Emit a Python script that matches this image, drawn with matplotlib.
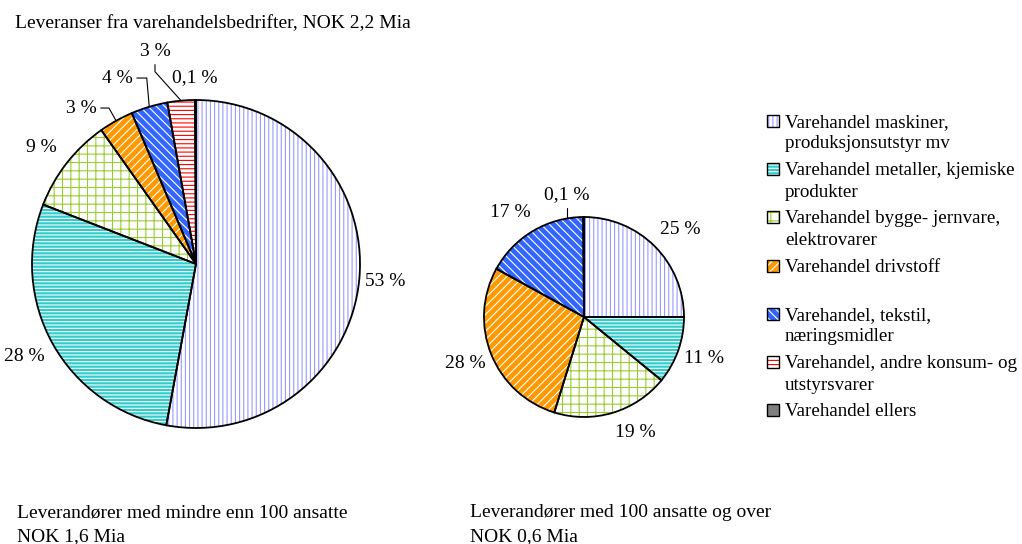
import numpy as np
import matplotlib
matplotlib.use('Agg')
import matplotlib.pyplot as plt
from matplotlib.patches import Rectangle

plt.rcParams['font.family'] = ['Liberation Serif', 'DejaVu Serif']
plt.rcParams['font.size'] = 14
plt.rcParams['hatch.linewidth'] = 0.8

W, H = 1022, 544

# data
categories = [
    'Varehandel maskiner,\nproduksjonsutstyr mv',
    'Varehandel metaller, kjemiske\nprodukter',
    'Varehandel bygge- jernvare,\nelektrovarer',
    'Varehandel drivstoff',
    'Varehandel, tekstil,\nnæringsmidler',
    'Varehandel, andre konsum- og\nutstyrsvarer',
    'Varehandel ellers',
]
small_share = [52.9, 28.0, 9.3, 3.4, 3.6, 2.7, 0.1]   # under 100 ansatte
large_share = [25.0, 10.9, 18.9, 28.2, 16.9, 0.0, 0.1]  # 100 ansatte og over

title = 'Leveranser fra varehandelsbedrifter, NOK 2,2 Mia'
caption_small = ['Leverandører med mindre enn 100 ansatte', 'NOK 1,6 Mia']
caption_large = ['Leverandører med 100 ansatte og over', 'NOK 0,6 Mia']

# styles
face_colors = ['white', '#33CCCC', 'white', '#FF9900', '#3366FF', 'white', '#808080']
hatch_colors = ['#9999FF', 'white', '#99CC33', 'white', 'white', '#FF0000', '#808080']
hatches = ['||||', '-----', '++', '////', '\\\\\\\\', '----', None]


def fx(x):
    return x / W


def fy(y):
    return 1 - y / H


def pct_label(v):
    if v < 1:
        return f'{v:.1f} %'.replace('.', ',')
    return f'{v:.0f} %'


def pie_axes(fig, cx, cy, r, pad=1.45):
    ax = fig.add_axes([fx(cx - pad * r), fy(cy + pad * r), 2 * pad * r / W, 2 * pad * r / H])
    return ax, pad


def draw_pie(ax, pad, values):
    wedges, _ = ax.pie(values, colors=face_colors, hatch=hatches, startangle=90,
                       counterclock=False, wedgeprops=dict(linewidth=0))
    for w, hc in zip(wedges, hatch_colors):
        w.set_edgecolor(hc)
    ax.pie(values, startangle=90, counterclock=False,
           wedgeprops=dict(fill=False, edgecolor='black', linewidth=1.3))
    ax.set_xlim(-pad, pad)
    ax.set_ylim(-pad, pad)
    ax.axis('off')
    return wedges


def add_labels(ax, wedges, values, layout, leaders):
    for i, (w, v) in enumerate(zip(wedges, values)):
        if v == 0:
            continue
        mid = (w.theta1 + w.theta2) / 2
        if i in leaders:
            tx, ty, angA, angB, relpos, end_nudge = leaders[i]
            a = np.deg2rad(mid + end_nudge)
            if angB is None:
                angB = mid
            ax.annotate(pct_label(v), xy=(np.cos(a), np.sin(a)), xytext=(tx, ty),
                        ha='center', va='center',
                        arrowprops=dict(arrowstyle='-', color='black', lw=0.8,
                                        shrinkA=1, shrinkB=0, relpos=relpos,
                                        connectionstyle=f'angle,angleA={angA},angleB={angB},rad=0'))
        else:
            nudge, dist = layout[i]
            a = np.deg2rad(mid + nudge)
            ax.text(dist * np.cos(a), dist * np.sin(a), pct_label(v), ha='center', va='center')


fig = plt.figure(figsize=(W / 100, H / 100), dpi=100)

# left pie: under 100 ansatte
ax1, pad1 = pie_axes(fig, 196, 264, 164)
w1 = draw_pie(ax1, pad1, small_share)
layout1 = [(0, 1.16), (-0.9, 1.19), (0.8, 1.18), None, None, None, (0.1, 1.134)]
leaders1 = {
    3: (-0.70, 0.951, 0, None, (1, 0.5), 0),
    4: (-0.48, 1.134, 0, 95, (1, 0.5), 0),
    5: (-0.25, 1.293, 90, 132, (0.5, 0), 0),
}
add_labels(ax1, w1, small_share, layout1, leaders1)

# right pie: 100 ansatte og over
ax2, pad2 = pie_axes(fig, 584, 317, 100)
w2 = draw_pie(ax2, pad2, large_share)
layout2 = [(-2.8, 1.30), (0.6, 1.27), (7.2, 1.26), (-0.5, 1.27), (4.6, 1.28), None, None]
leaders2 = {
    6: (-0.17, 1.22, 90, 0, (0.5, 0), 6.8),
}
add_labels(ax2, w2, large_share, layout2, leaders2)

# texts
fig.text(fx(15), fy(28), title, ha='left', va='baseline')
for j, line in enumerate(caption_small):
    fig.text(fx(17), fy(517 + j * 24), line, ha='left', va='baseline')
for j, line in enumerate(caption_large):
    fig.text(fx(470), fy(517 + j * 24), line, ha='left', va='baseline')

# legend
for i, lab in enumerate(categories):
    yc = 121 + i * 48.2
    sq = Rectangle((fx(767), fy(yc + 6)), 12 / W, 12 / H, transform=fig.transFigure,
                   facecolor=face_colors[i], hatch=hatches[i], edgecolor=hatch_colors[i], linewidth=0)
    fig.add_artist(sq)
    fig.add_artist(Rectangle((fx(767), fy(yc + 6)), 12 / W, 12 / H, transform=fig.transFigure,
                             fill=False, edgecolor='black', linewidth=1.0))
    for j, line in enumerate(lab.split('\n')):
        fig.text(fx(785), fy(yc + 6 + j * 21.5), line, ha='left', va='baseline', fontsize=13.7)

fig.savefig('out.png', dpi=100)
